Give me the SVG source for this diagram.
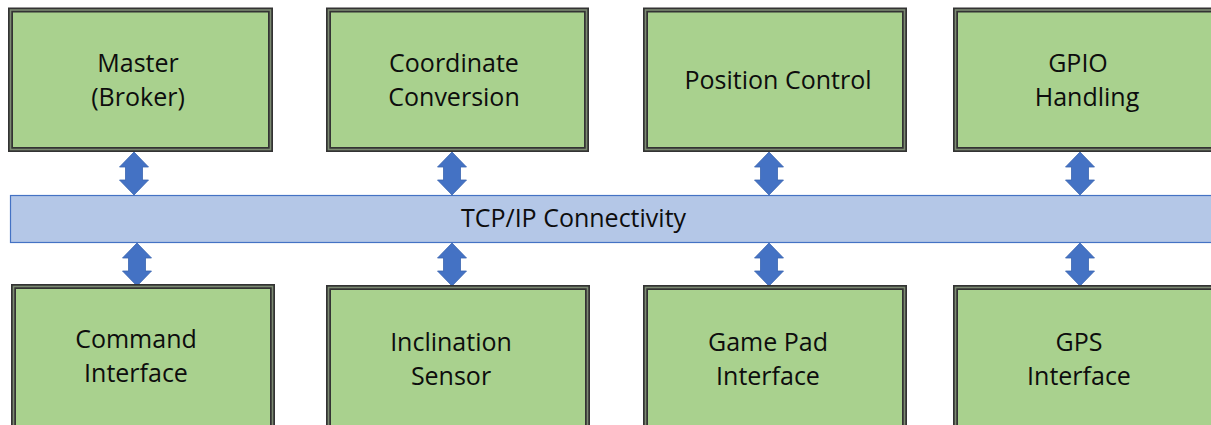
<svg xmlns="http://www.w3.org/2000/svg" xmlns:xlink="http://www.w3.org/1999/xlink" width="1211" height="425" viewBox="0 0 1211 425">
  <style>
    .box-outer { fill: #a9d18e; stroke: #333333; stroke-width: 5; }
    .box-inner { fill: none; stroke: #7c8a72; stroke-width: 1.6; }
    .bar { fill: #b4c7e7; stroke: #4472c4; stroke-width: 1.2; }
    .arrow { fill: #4472c4; stroke: #3a64b0; stroke-width: 0.8; }
    .lbl { font-family: "Open Sans", "Liberation Sans", sans-serif; font-size: 25px; fill: #0d0d0d; text-anchor: middle; }
  </style>
  <defs>
    <path id="dblArrow" class="arrow" d="M0,0 L14.5,15 L8.5,15 L8.5,28 L14.5,28 L0,43 L-14.5,28 L-8.5,28 L-8.5,15 L-14.5,15 Z"/>
  </defs>
  <rect width="1211" height="425" fill="#ffffff"/>

  <g id="bus">
    <rect class="bar" x="10.5" y="195.5" width="1215" height="47"/>
    <text class="lbl" x="573.5" y="227">TCP/IP Connectivity</text>
  </g>

  <g id="connectors">
    <use xlink:href="#dblArrow" href="#dblArrow" transform="translate(134,152)"/>
    <use xlink:href="#dblArrow" href="#dblArrow" transform="translate(452,152)"/>
    <use xlink:href="#dblArrow" href="#dblArrow" transform="translate(769,152)"/>
    <use xlink:href="#dblArrow" href="#dblArrow" transform="translate(1080,152)"/>
    <use xlink:href="#dblArrow" href="#dblArrow" transform="translate(137,243)"/>
    <use xlink:href="#dblArrow" href="#dblArrow" transform="translate(452,243)"/>
    <use xlink:href="#dblArrow" href="#dblArrow" transform="translate(769,243)"/>
    <use xlink:href="#dblArrow" href="#dblArrow" transform="translate(1080,243)"/>
  </g>

  <g id="master">
    <rect class="box-outer" x="10.5" y="10" width="260" height="139.5"/>
    <rect class="box-inner" x="10.5" y="10" width="260" height="139.5"/>
    <text class="lbl" x="138" y="72">Master</text>
    <text class="lbl" x="138" y="106">(Broker)</text>
  </g>
  <g id="coordinate-conversion">
    <rect class="box-outer" x="328.5" y="10" width="258" height="139.5"/>
    <rect class="box-inner" x="328.5" y="10" width="258" height="139.5"/>
    <text class="lbl" x="454" y="72">Coordinate</text>
    <text class="lbl" x="454" y="106">Conversion</text>
  </g>
  <g id="position-control">
    <rect class="box-outer" x="645.5" y="10" width="259" height="139.5"/>
    <rect class="box-inner" x="645.5" y="10" width="259" height="139.5"/>
    <text class="lbl" x="778" y="89">Position Control</text>
  </g>
  <g id="gpio-handling">
    <rect class="box-outer" x="955.5" y="10" width="300" height="139.5"/>
    <rect class="box-inner" x="955.5" y="10" width="300" height="139.5"/>
    <text class="lbl" x="1078" y="72">GPIO</text>
    <text class="lbl" x="1087" y="106">Handling</text>
  </g>

  <g id="command-interface">
    <rect class="box-outer" x="13.5" y="286.5" width="259" height="200"/>
    <rect class="box-inner" x="13.5" y="286.5" width="259" height="200"/>
    <text class="lbl" x="136" y="348">Command</text>
    <text class="lbl" x="136" y="382">Interface</text>
  </g>
  <g id="inclination-sensor">
    <rect class="box-outer" x="328.5" y="287.5" width="259" height="200"/>
    <rect class="box-inner" x="328.5" y="287.5" width="259" height="200"/>
    <text class="lbl" x="451" y="351">Inclination</text>
    <text class="lbl" x="451" y="385">Sensor</text>
  </g>
  <g id="game-pad-interface">
    <rect class="box-outer" x="645.5" y="287.5" width="259" height="200"/>
    <rect class="box-inner" x="645.5" y="287.5" width="259" height="200"/>
    <text class="lbl" x="768" y="351">Game Pad</text>
    <text class="lbl" x="768" y="385">Interface</text>
  </g>
  <g id="gps-interface">
    <rect class="box-outer" x="955.5" y="287.5" width="300" height="200"/>
    <rect class="box-inner" x="955.5" y="287.5" width="300" height="200"/>
    <text class="lbl" x="1079" y="351">GPS</text>
    <text class="lbl" x="1079" y="385">Interface</text>
  </g>
</svg>
